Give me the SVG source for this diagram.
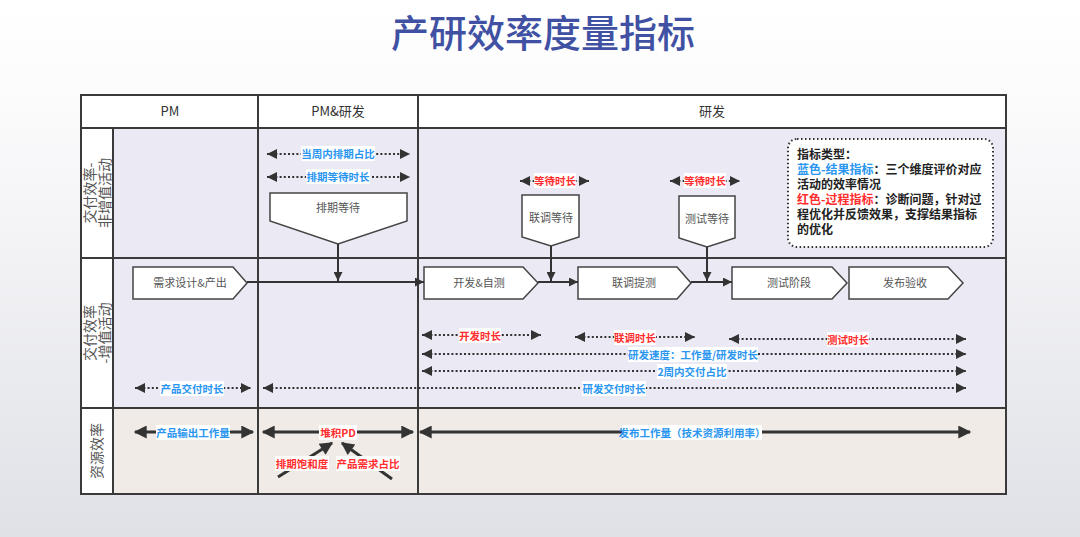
<svg xmlns="http://www.w3.org/2000/svg" width="1080" height="537" viewBox="0 0 1080 537">
<defs>
<linearGradient id="bg" x1="0" y1="0" x2="0" y2="1">
<stop offset="0" stop-color="#ffffff"/>
<stop offset="0.2" stop-color="#fbfbfc"/>
<stop offset="1" stop-color="#e0e1e7"/>
</linearGradient>
<marker id="ah" viewBox="0 0 10 10" refX="10" refY="5" markerWidth="10" markerHeight="9" markerUnits="userSpaceOnUse" orient="auto-start-reverse"><path d="M0,0 L10,5 L0,10 z" fill="#333"/></marker>
<marker id="ad" viewBox="0 0 10 10" refX="10" refY="5" markerWidth="12" markerHeight="10" markerUnits="userSpaceOnUse" orient="auto-start-reverse"><path d="M0,0 L10,5 L0,10 z" fill="#333"/></marker>
<marker id="at" viewBox="0 0 10 10" refX="9" refY="5" markerWidth="15" markerHeight="13" markerUnits="userSpaceOnUse" orient="auto-start-reverse"><path d="M0,0 L10,5 L0,10 z" fill="#333"/></marker>
<style>
text{font-family:"Noto Sans CJK SC","Liberation Sans",sans-serif;}
.title{font-size:38px;font-weight:500;fill:#4051a3;text-anchor:middle;}
.hdr{font-size:13px;fill:#333;text-anchor:middle;}
.side{font-size:14px;fill:#555;text-anchor:middle;}
.nt{font-size:11px;fill:#555;text-anchor:middle;}
.node{fill:#fff;stroke:#444;stroke-width:1.5;}
.grid{stroke:#3a3a3a;stroke-width:2;fill:none;}
.dot{stroke:#333;stroke-width:2;stroke-dasharray:2 2.2;fill:none;marker-start:url(#ad);marker-end:url(#ad);}
.sol{stroke:#333;stroke-width:2;fill:none;}
.thick{stroke:#333;stroke-width:3;fill:none;}
.lb{font-size:10.5px;font-weight:bold;text-anchor:middle;}
.blue{fill:#2a96f0;}
.red{fill:#ff2d2d;}
.lbg{fill:#fff;}
.lg{font-size:12px;font-weight:bold;fill:#222;}
</style>
</defs>
<rect width="1080" height="537" fill="url(#bg)"/>
<text class="title" x="543" y="47">产研效率度量指标</text>

<g id="table">
<rect x="81" y="95" width="925" height="33" fill="#fff"/>
<rect x="81" y="128" width="32" height="366" fill="#fff"/>
<rect x="113" y="128" width="893" height="280" fill="#ebeaf4"/>
<rect x="113" y="408" width="893" height="86" fill="#f0ebe6"/>
<rect class="grid" x="81" y="95" width="925" height="399"/>
<line class="grid" x1="81" y1="128" x2="1006" y2="128"/>
<line class="grid" x1="81" y1="258" x2="1006" y2="258"/>
<line class="grid" x1="81" y1="408" x2="1006" y2="408"/>
<line class="grid" x1="113" y1="128" x2="113" y2="494"/>
<line class="grid" x1="258" y1="95" x2="258" y2="494"/>
<line class="grid" x1="418" y1="95" x2="418" y2="494"/>
<text class="hdr" x="170" y="116">PM</text>
<text class="hdr" x="338" y="116">PM&amp;研发</text>
<text class="hdr" x="712" y="116">研发</text>
<text class="side" transform="translate(97,193) rotate(-90)"><tspan x="0" y="-2">交付效率-</tspan><tspan x="0" y="13">非增值活动</tspan></text>
<text class="side" transform="translate(97,333) rotate(-90)"><tspan x="0" y="-2">交付效率</tspan><tspan x="0" y="13">-增值活动</tspan></text>
<text class="side" transform="translate(97,451) rotate(-90)"><tspan x="0" y="5">资源效率</tspan></text>
</g>

<g id="n-xqsj"><path class="node" d="M133,267 H233 L247,283 L233,299 H133 Z"/><text class="nt" x="190" y="287">需求设计&amp;产出</text></g>
<g id="n-kfzc"><path class="node" d="M424,267 H523 L538,283 L523,299 H424 Z"/><text class="nt" x="479" y="287">开发&amp;自测</text></g>
<g id="n-ltc"><path class="node" d="M578,267 H677 L691,283 L677,299 H578 Z"/><text class="nt" x="634" y="287">联调提测</text></g>
<g id="n-csjd"><path class="node" d="M732,267 H832 L847,283 L832,299 H732 Z"/><text class="nt" x="789" y="287">测试阶段</text></g>
<g id="n-fbys"><path class="node" d="M849,267 H948 L963,283 L948,299 H849 Z"/><text class="nt" x="905" y="287">发布验收</text></g>
<g id="n-pqdd"><path class="node" d="M270,193 H407 V221 L338,244 L270,221 Z"/><text class="nt" x="338" y="212">排期等待</text></g>
<g id="n-ltdd"><path class="node" d="M522,195 H579 V237 L551,246 L522,237 Z"/><text class="nt" x="551" y="222">联调等待</text></g>
<g id="n-csdd"><path class="node" d="M679,196 H735 V238 L707,247 L679,238 Z"/><text class="nt" x="707" y="223">测试等待</text></g>

<g id="legend">
<rect x="788" y="139" width="205" height="108" rx="9" fill="#fff" stroke="#333" stroke-width="2" stroke-dasharray="1.5 2.5"/>
<text class="lg" x="797" y="159">指标类型：</text>
<text class="lg" x="797" y="174"><tspan class="blue">蓝色-结果指标</tspan>：三个维度评价对应</text>
<text class="lg" x="797" y="189">活动的效率情况</text>
<text class="lg" x="797" y="204"><tspan class="red">红色-过程指标</tspan>：诊断问题，针对过</text>
<text class="lg" x="797" y="219">程优化并反馈效果，支撑结果指标</text>
<text class="lg" x="797" y="234">的优化</text>
</g>

<g id="connectors">
<line class="sol" x1="247" y1="282" x2="424" y2="282" marker-end="url(#ah)"/>
<line class="sol" x1="538" y1="282" x2="578" y2="282" marker-end="url(#ah)"/>
<line class="sol" x1="691" y1="282" x2="732" y2="282" marker-end="url(#ah)"/>
<line class="sol" x1="338" y1="244" x2="338" y2="281" marker-end="url(#ah)"/>
<line class="sol" x1="551" y1="246" x2="551" y2="281" marker-end="url(#ah)"/>
<line class="sol" x1="707" y1="247" x2="707" y2="281" marker-end="url(#ah)"/>

<line class="dot" x1="267" y1="154" x2="410" y2="154"/>
<line class="dot" x1="267" y1="177" x2="410" y2="177"/>
<line class="dot" x1="520" y1="181" x2="589" y2="181"/>
<line class="dot" x1="670" y1="181" x2="740" y2="181"/>
<line class="dot" x1="422" y1="335" x2="541" y2="335"/>
<line class="dot" x1="575" y1="337" x2="695" y2="337"/>
<line class="dot" x1="729" y1="339" x2="966" y2="339"/>
<line class="dot" x1="422" y1="354" x2="966" y2="354"/>
<line class="dot" x1="422" y1="371" x2="966" y2="371"/>
<line class="dot" x1="135" y1="388" x2="251" y2="388"/>
<line class="dot" x1="263" y1="388" x2="966" y2="388"/>

<line class="thick" x1="135" y1="432" x2="253" y2="432" marker-start="url(#at)" marker-end="url(#at)"/>
<line class="thick" x1="263" y1="432" x2="413" y2="432" marker-start="url(#at)" marker-end="url(#at)"/>
<line class="thick" x1="420" y1="432" x2="970" y2="432" marker-start="url(#at)" marker-end="url(#at)"/>
<line class="thick" x1="278" y1="477" x2="332" y2="443" marker-end="url(#at)"/>
<line class="thick" x1="392" y1="479" x2="342" y2="443" marker-end="url(#at)"/>
</g>

<g id="labels">
<rect class="lbg" x="301" y="146" width="74" height="15"/><text class="lb blue" x="338" y="158">当周内排期占比</text>
<rect class="lbg" x="306" y="169" width="64" height="15"/><text class="lb blue" x="338" y="181">排期等待时长</text>
<rect class="lbg" x="534" y="173" width="42" height="15"/><text class="lb red" x="555" y="185">等待时长</text>
<rect class="lbg" x="684" y="173" width="42" height="15"/><text class="lb red" x="705" y="185">等待时长</text>
<rect class="lbg" x="459" y="328" width="42" height="15"/><text class="lb red" x="480" y="340">开发时长</text>
<rect class="lbg" x="614" y="330" width="42" height="15"/><text class="lb red" x="635" y="342">联调时长</text>
<rect class="lbg" x="827" y="332" width="42" height="15"/><text class="lb red" x="848" y="344">测试时长</text>
<rect class="lbg" x="628" y="347" width="130" height="15"/><text class="lb blue" x="693" y="359">研发速度：工作量/研发时长</text>
<rect class="lbg" x="657" y="364" width="70" height="15"/><text class="lb blue" x="692" y="376">2周内交付占比</text>
<rect class="lbg" x="582" y="381" width="64" height="15"/><text class="lb blue" x="614" y="393">研发交付时长</text>
<rect class="lbg" x="160" y="381" width="64" height="15"/><text class="lb blue" x="192" y="393">产品交付时长</text>
<rect class="lbg" x="156" y="425" width="74" height="15"/><text class="lb blue" x="193" y="437">产品输出工作量</text>
<rect class="lbg" x="319" y="425" width="38" height="15"/><text class="lb red" x="338" y="437">堆积PD</text>
<rect class="lbg" x="622" y="425" width="140" height="15"/><text class="lb blue" x="692" y="437">发布工作量（技术资源利用率）</text>
<rect class="lbg" x="275" y="456" width="54" height="15"/><text class="lb red" x="302" y="468">排期饱和度</text>
<rect class="lbg" x="336" y="456" width="64" height="15"/><text class="lb red" x="368" y="468">产品需求占比</text>
</g>
</svg>
